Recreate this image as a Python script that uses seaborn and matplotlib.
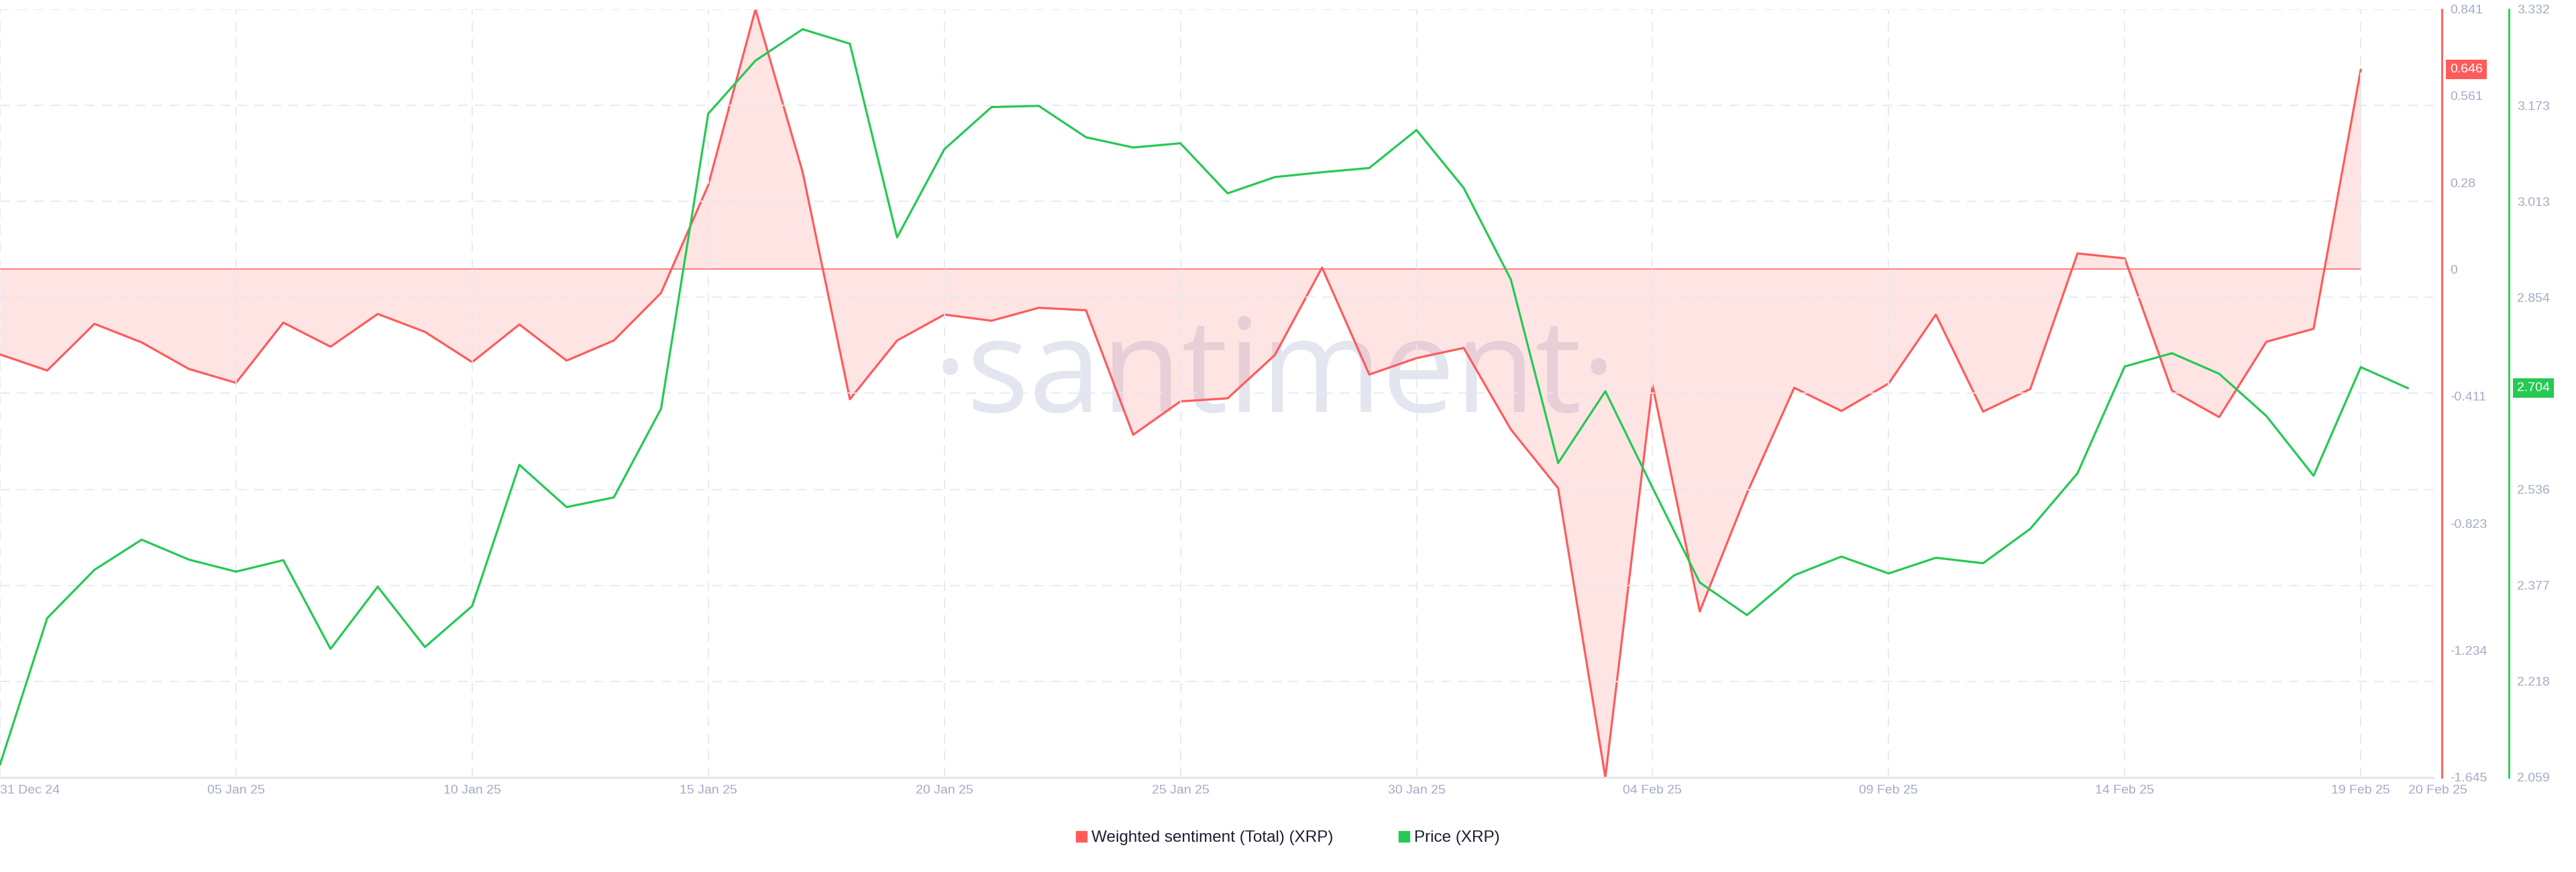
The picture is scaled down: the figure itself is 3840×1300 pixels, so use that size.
import numpy as np
import pandas as pd
import matplotlib
matplotlib.use('Agg')
import matplotlib.pyplot as plt
import matplotlib.transforms as mtransforms
from matplotlib.patches import Patch
import seaborn as sns

# Daily values, 31 Dec 24 .. 20 Feb 25
sentiment = [
    -0.276, -0.328, -0.177, -0.237, -0.323, -0.368, -0.173, -0.251, -0.145, -0.203,
    -0.301, -0.179, -0.296, -0.231, -0.077, 0.272, 0.841, 0.314, -0.421, -0.231,
    -0.147, -0.167, -0.125, -0.133, -0.536, -0.428, -0.418, -0.278, 0.005, -0.341,
    -0.288, -0.255, -0.519, -0.709, -1.645, -0.376, -1.108, -0.725, -0.384, -0.459,
    -0.370, -0.147, -0.461, -0.388, 0.051, 0.035, -0.393, -0.479, -0.235, -0.193,
    0.646,
]
price = [
    2.080, 2.323, 2.403, 2.453, 2.420, 2.400, 2.419, 2.272, 2.375, 2.275,
    2.343, 2.577, 2.507, 2.523, 2.670, 3.159, 3.247, 3.299, 3.275, 2.954,
    3.100, 3.170, 3.172, 3.120, 3.103, 3.110, 3.027, 3.054, 3.062, 3.069,
    3.132, 3.036, 2.884, 2.580, 2.699, 2.539, 2.382, 2.328, 2.394, 2.425,
    2.397, 2.423, 2.414, 2.471, 2.563, 2.740, 2.762, 2.728, 2.658, 2.559,
    2.739, 2.704,
]
sent_ticks = [0.841, 0.561, 0.28, 0, -0.411, -0.823, -1.234, -1.645]
price_tick_labels = ["2.059", "2.218", "2.377", "2.536", "2.695", "2.854", "3.013", "3.173", "3.332"]
price_lim = (2.059, 3.332)
sent_lim = (-1.645, 0.841)
start_date = "2024-12-31"

RED = "#ff5b5b"
GREEN = "#26c953"
GRID = "#e6e8f1"
TICK = "#a3acc5"

dates = pd.date_range(start_date, periods=len(price), freq="D")
df_sent = pd.DataFrame({"date": dates[:len(sentiment)], "value": sentiment})
df_price = pd.DataFrame({"date": dates, "value": price})

sns.set_style("white")
plt.rcParams["font.family"] = ["Liberation Sans", "DejaVu Sans"]

fig = plt.figure(figsize=(38.4, 13), dpi=100)
axp = fig.add_axes([0.0, 0.1085, 0.9445, 0.8808])
axs = axp.twinx()
# price axis (grid + green line) drawn above sentiment
axp.set_zorder(axs.get_zorder() + 1)
axp.patch.set_visible(False)

# sentiment: fill to zero + red line + zero line
axs.fill_between(df_sent["date"], df_sent["value"], 0, color=RED, alpha=0.16, linewidth=0, zorder=1)
axs.plot(df_sent["date"], np.zeros(len(df_sent)), color=RED, lw=1.1, zorder=2)
sns.lineplot(data=df_sent, x="date", y="value", ax=axs, color=RED, lw=2.3, zorder=3)

# watermark
axs.text(0.524, 0.52, "\u00b7santiment\u00b7", transform=axs.transAxes, ha="center", va="center",
         fontsize=140, color="#e3e5ef", family=["Open Sans", "DejaVu Sans"], zorder=0)

sns.lineplot(data=df_price, x="date", y="value", ax=axp, color=GREEN, lw=2.3, zorder=3)

# limits
x0 = dates[0]
axp.set_xlim(x0, x0 + pd.Timedelta(days=51.53))
axp.set_ylim(*price_lim)
axs.set_ylim(*sent_lim)

# x ticks
xt = list(dates[::5]) + [dates[-1]]
axp.set_xticks(xt)
axp.set_xticklabels([d.strftime("%d %b %y") for d in xt])
axp.tick_params(axis="x", length=0, pad=8, labelsize=14, labelcolor=TICK)
axp.get_xticklabels()[0].set_horizontalalignment("left")
axp.get_xticklabels()[-1].set_horizontalalignment("left")
for d in dates[::5]:
    axp.axvline(d, color=GRID, lw=1.3, dashes=(8, 6), zorder=0)

# price y axis (green)
pt = np.linspace(price_lim[0], price_lim[1], len(price_tick_labels))
axp.yaxis.tick_right()
axp.set_yticks(pt)
axp.set_yticklabels(price_tick_labels)
axp.tick_params(axis="y", length=0, pad=8.6, labelsize=14, labelcolor=TICK)
axp.yaxis.grid(True, color=GRID, lw=1.3, dashes=(8, 6))
axp.spines["right"].set_position(("outward", 81.4))
axp.spines["right"].set_color(GREEN)
axp.spines["right"].set_linewidth(2)
for s in ["left", "top"]:
    axp.spines[s].set_visible(False)
axp.spines["bottom"].set_color("#e2e5ef")
axp.spines["bottom"].set_linewidth(2)
axp.set_xlabel("")
axp.set_ylabel("")

# sentiment y axis (red)
axs.set_yticks(sent_ticks)
axs.set_yticklabels([f"{v:g}" for v in sent_ticks])
axs.tick_params(axis="y", length=0, pad=8.6, labelsize=14, labelcolor=TICK)
axs.spines["right"].set_position(("outward", 9.4))
axs.spines["right"].set_color(RED)
axs.spines["right"].set_linewidth(2)
for s in ["left", "top", "bottom"]:
    axs.spines[s].set_visible(False)
axs.set_ylabel("")

# last-value badges
tr_s = mtransforms.blended_transform_factory(fig.transFigure, axs.transData)
tr_p = mtransforms.blended_transform_factory(fig.transFigure, axp.transData)
fig.text(0.9510, sentiment[-1], f"{sentiment[-1]:.3f}", transform=tr_s, ha="left", va="center",
         fontsize=14, color="white", bbox=dict(boxstyle="square,pad=0.3", fc=RED, ec="none"))
fig.text(0.9771, price[-1], f"{price[-1]:.3f}", transform=tr_p, ha="left", va="center",
         fontsize=14, color="white", zorder=10,
         bbox=dict(boxstyle="square,pad=0.3", fc=GREEN, ec="none"))

handles = [Patch(color=RED, label="Weighted sentiment (Total) (XRP)"),
           Patch(color=GREEN, label="Price (XRP)")]
fig.legend(handles=handles, loc="center", bbox_to_anchor=(0.5, 0.039), ncol=2, frameon=False,
           fontsize=17.5, handlelength=0.65, handleheight=0.65, handletextpad=0.3,
           columnspacing=4.0, labelcolor="#1b1e2e")

fig.savefig("out.png", dpi=100)
